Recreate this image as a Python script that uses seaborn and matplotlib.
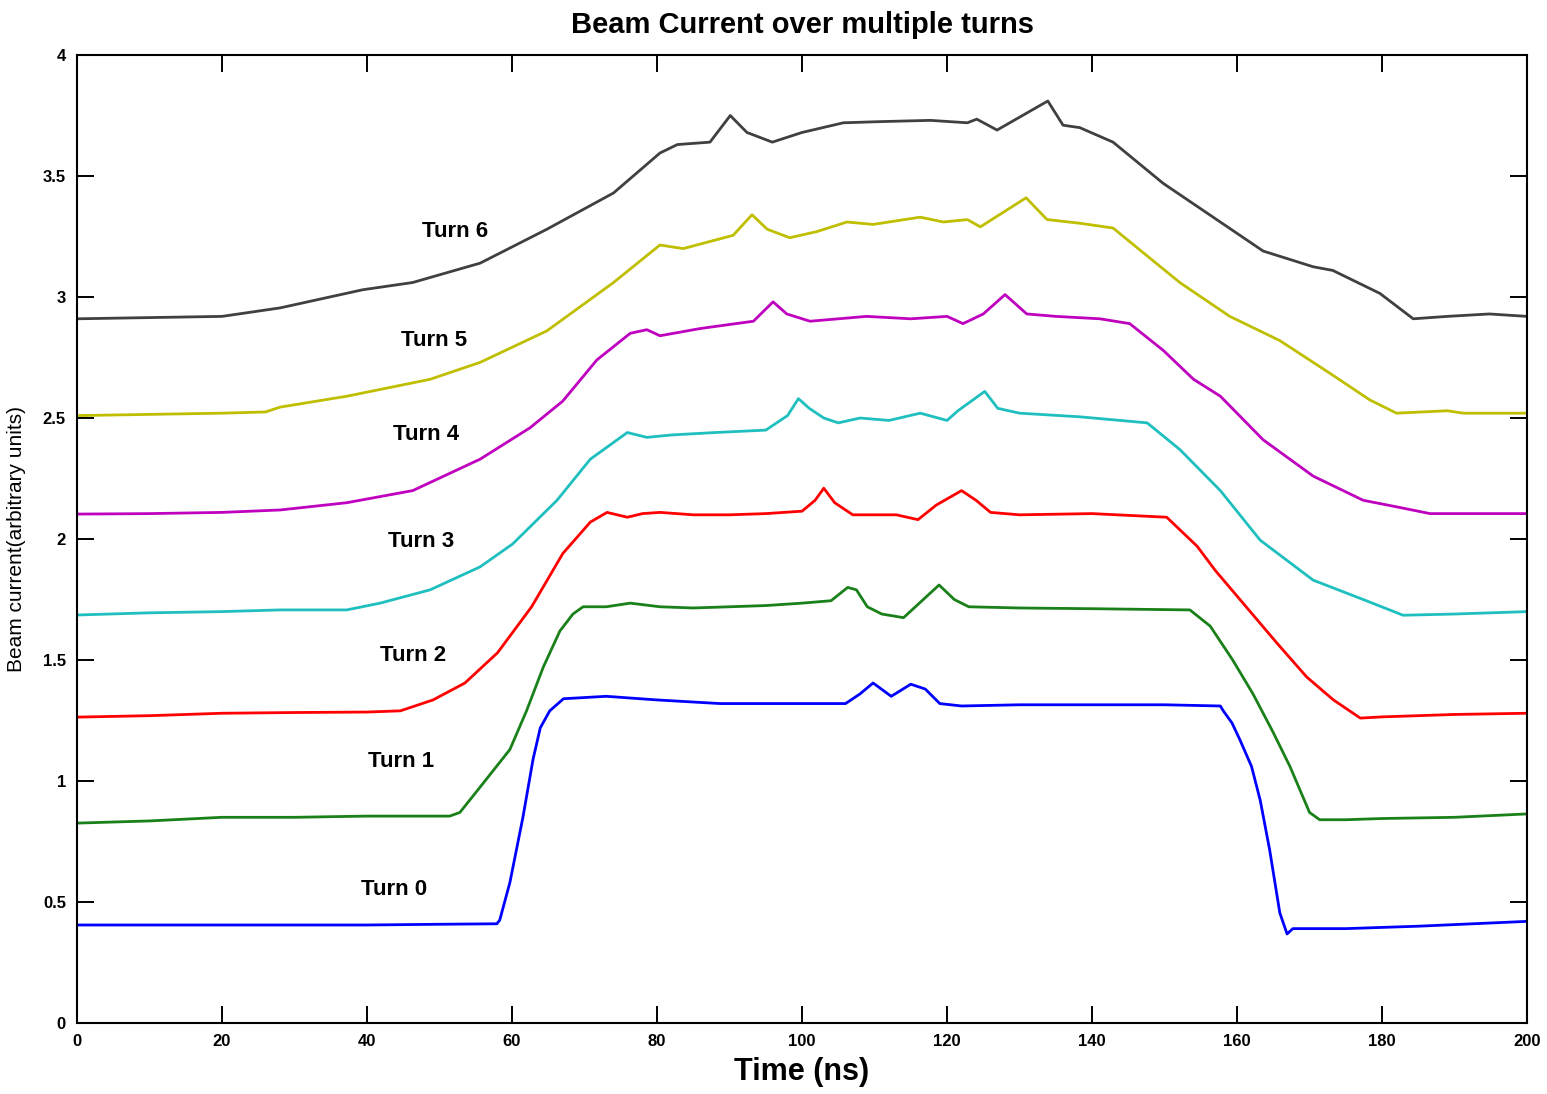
import numpy as np
import pandas as pd
import matplotlib
matplotlib.use("Agg")
import matplotlib.pyplot as plt
import seaborn as sns

# Beam current traces (time in ns, current in arbitrary units), one per turn
t0 = [0, 10, 20, 30, 40, 50, 57.9, 58.3, 59.7, 61.5, 62.9, 63.9, 65.2, 67.1, 73, 80, 88.7,
      100, 106, 108, 109.8, 112.3, 115, 117, 119, 122, 130, 140, 150, 157.7, 158.1, 159.3,
      160.4, 162, 163.2, 164.5, 165.9, 166.9, 167.7, 175, 185, 200]
v0 = [0.405, 0.405, 0.405, 0.405, 0.405, 0.408, 0.41, 0.425, 0.58, 0.85, 1.09, 1.22, 1.29,
      1.34, 1.35, 1.335, 1.32, 1.32, 1.32, 1.36, 1.405, 1.35, 1.40, 1.38, 1.32, 1.31, 1.315,
      1.315, 1.315, 1.31, 1.29, 1.24, 1.17, 1.06, 0.92, 0.715, 0.455, 0.368, 0.39, 0.39,
      0.40, 0.42]

t1 = [0, 10, 20, 30, 40, 51.4, 52.8, 55.6, 59.7, 62, 64.3, 66.6, 68.4, 69.8, 73, 76.3,
      80.4, 85, 90, 95, 100, 104, 106.3, 107.5, 109, 111, 114, 116, 118.9, 121, 123, 130,
      140, 153.5, 156.3, 159.4, 162.2, 165, 167.3, 170, 171.4, 175, 180, 190, 200]
v1 = [0.826, 0.835, 0.85, 0.85, 0.855, 0.855, 0.87, 0.975, 1.13, 1.29, 1.47, 1.62, 1.69,
      1.72, 1.72, 1.735, 1.72, 1.715, 1.72, 1.725, 1.735, 1.745, 1.80, 1.79, 1.72, 1.69,
      1.675, 1.73, 1.81, 1.75, 1.72, 1.715, 1.712, 1.707, 1.64, 1.50, 1.36, 1.20, 1.06,
      0.87, 0.84, 0.84, 0.845, 0.85, 0.864]

t2 = [0, 10, 20, 30, 40, 44.6, 49.1, 53.5, 58, 62.7, 67, 70.8, 73.1, 75.9, 78, 80.4, 85,
      90, 95, 100, 101.8, 103, 104.5, 107, 110, 113, 116, 118.5, 122, 124, 126, 130, 140,
      150.3, 154.5, 157, 160.4, 165.5, 169.6, 173.3, 177, 180, 190, 200]
v2 = [1.264, 1.27, 1.28, 1.283, 1.285, 1.29, 1.335, 1.405, 1.53, 1.72, 1.94, 2.07, 2.11,
      2.09, 2.105, 2.11, 2.10, 2.10, 2.105, 2.115, 2.16, 2.21, 2.15, 2.10, 2.10, 2.10, 2.08,
      2.14, 2.20, 2.16, 2.11, 2.10, 2.105, 2.09, 1.97, 1.87, 1.75, 1.57, 1.43, 1.335, 1.26,
      1.265, 1.275, 1.28]

t3 = [0, 10, 20, 28, 37.2, 41.8, 48.7, 55.6, 60.1, 66.2, 70.8, 75.9, 78.6, 82, 88, 95, 98,
      99.5, 101, 103, 105, 108, 112, 116.3, 120, 121.5, 125.2, 127, 130, 138.3, 147.6,
      152.1, 157.7, 163.2, 170.5, 177.4, 182.9, 190, 200]
v3 = [1.686, 1.695, 1.70, 1.707, 1.707, 1.735, 1.79, 1.885, 1.98, 2.16, 2.33, 2.44, 2.42,
      2.43, 2.44, 2.45, 2.51, 2.58, 2.54, 2.50, 2.48, 2.50, 2.49, 2.52, 2.49, 2.53, 2.61,
      2.54, 2.52, 2.505, 2.48, 2.37, 2.20, 1.995, 1.83, 1.75, 1.685, 1.69, 1.70]

t4 = [0, 10, 20, 28, 37.2, 46.3, 55.6, 62.5, 67, 71.7, 76.3, 78.6, 80.4, 86, 93.3, 96,
      97.9, 101.1, 105, 108.9, 115, 120, 122.2, 125, 128, 131, 135, 141.1, 145.2, 149.8,
      154, 157.7, 163.6, 170.5, 177.4, 182.5, 186.6, 200]
v4 = [2.103, 2.105, 2.11, 2.12, 2.15, 2.20, 2.33, 2.46, 2.57, 2.74, 2.85, 2.865, 2.84,
      2.87, 2.90, 2.98, 2.93, 2.90, 2.91, 2.92, 2.91, 2.92, 2.89, 2.93, 3.01, 2.93, 2.92,
      2.91, 2.89, 2.78, 2.66, 2.59, 2.41, 2.26, 2.16, 2.13, 2.105, 2.105]

t5 = [0, 10, 20, 26, 28, 37.2, 48.7, 55.6, 64.8, 74, 80.4, 83.6, 90.5, 93.1, 95.2, 98.3,
      102, 106.2, 109.8, 116.3, 119.5, 122.8, 124.6, 130.9, 133.8, 138.3, 142.9, 147.6,
      152.1, 159, 165.9, 172.8, 178.3, 182, 189, 191.2, 200]
v5 = [2.51, 2.515, 2.52, 2.525, 2.545, 2.59, 2.66, 2.73, 2.86, 3.06, 3.215, 3.20, 3.255,
      3.34, 3.28, 3.245, 3.27, 3.31, 3.30, 3.33, 3.31, 3.32, 3.29, 3.41, 3.32, 3.305, 3.285,
      3.17, 3.06, 2.92, 2.82, 2.685, 2.575, 2.52, 2.53, 2.52, 2.52]

t6 = [0, 10, 20, 28, 39.4, 46.3, 55.6, 64.8, 74, 80.4, 82.8, 87.3, 90.1, 92.4, 95.9, 100,
      105.7, 111, 117.7, 122.8, 124.1, 126.9, 133.9, 136, 138.3, 142.9, 149.8, 156.7,
      163.6, 170.5, 173.2, 179.7, 184.3, 189, 194.8, 200]
v6 = [2.91, 2.915, 2.92, 2.955, 3.03, 3.06, 3.14, 3.28, 3.43, 3.595, 3.63, 3.64, 3.75,
      3.68, 3.64, 3.68, 3.72, 3.725, 3.73, 3.72, 3.735, 3.69, 3.81, 3.71, 3.70, 3.64, 3.47,
      3.33, 3.19, 3.125, 3.11, 3.015, 2.91, 2.92, 2.93, 2.92]

turn_names = ["Turn 0", "Turn 1", "Turn 2", "Turn 3", "Turn 4", "Turn 5", "Turn 6"]
turn_colors = ["#0000ff", "#1a801a", "#ff0000", "#1fbfbf", "#bf00bf", "#bfbf00", "#404040"]

# Label anchor points (ns, current) for the turn annotations
label_x = [43.7, 44.7, 46.3, 47.4, 48.1, 49.2, 52.1]
label_y = [0.55, 1.08, 1.52, 1.99, 2.43, 2.82, 3.27]

x_ticks = [0, 20, 40, 60, 80, 100, 120, 140, 160, 180, 200]
y_ticks = [0, 0.5, 1, 1.5, 2, 2.5, 3, 3.5, 4]
y_tick_labels = ["0", "0.5", "1", "1.5", "2", "2.5", "3", "3.5", "4"]

times = [t0, t1, t2, t3, t4, t5, t6]
values = [v0, v1, v2, v3, v4, v5, v6]
frames = [pd.DataFrame({"time": t, "current": v, "turn": name})
          for t, v, name in zip(times, values, turn_names)]
df = pd.concat(frames, ignore_index=True)

sns.set_theme(style="ticks")
plt.rcParams["font.family"] = ["Liberation Sans", "DejaVu Sans"]
plt.rcParams["text.color"] = "black"
plt.rcParams["axes.labelcolor"] = "black"

fig = plt.figure(figsize=(15.47, 10.94), dpi=100)
ax = fig.add_axes([0.0498, 0.0649, 0.9373, 0.8848])

sns.lineplot(data=df, x="time", y="current", hue="turn", hue_order=turn_names,
             palette=turn_colors, estimator=None, sort=True, linewidth=2.0,
             legend=False, ax=ax)

for name, lx, ly in zip(turn_names, label_x, label_y):
    ax.text(lx, ly, name, ha="center", va="center", fontsize=16,
            fontweight="bold", color="black")

ax.set_xlim(0, 200)
ax.set_ylim(0, 4)
ax.set_xticks(x_ticks)
ax.set_xticklabels([str(v) for v in x_ticks])
ax.set_yticks(y_ticks)
ax.set_yticklabels(y_tick_labels)
ax.tick_params(direction="in", length=12, width=1.4, top=True, right=True,
               labelsize=12, pad=8, colors="black")
for lab in ax.get_xticklabels() + ax.get_yticklabels():
    lab.set_fontweight("bold")
for sp in ax.spines.values():
    sp.set_visible(True)
    sp.set_linewidth(1.5)
    sp.set_color("black")

ax.set_title("Beam Current over multiple turns", fontsize=21, fontweight="bold",
             pad=16, color="black")
ax.set_xlabel("Time (ns)", fontsize=22, fontweight="bold", labelpad=6, color="black")
ax.set_ylabel("Beam current(arbitrary units)", fontsize=15, labelpad=12, color="black")

fig.savefig("out.png", dpi=100, facecolor="white")
